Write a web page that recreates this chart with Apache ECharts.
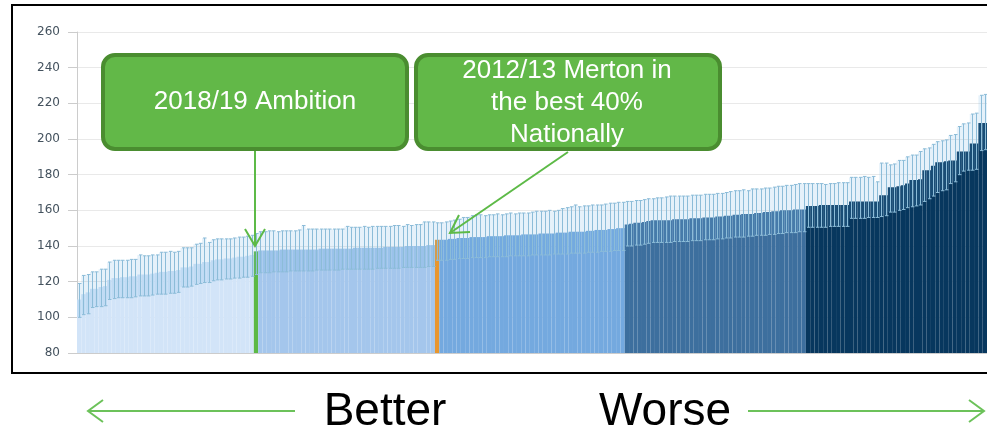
<!DOCTYPE html>
<html>
<head>
<meta charset="utf-8">
<script src="https://cdn.jsdelivr.net/npm/echarts@6/dist/echarts.min.js"></script>
<style>
  html, body { margin: 0; padding: 0; background: #fff; }
  #main { width: 987px; height: 432px; }
</style>
</head>
<body>
<div id="main"></div>
<script>
// rates per area, sorted best -> worst (one line per quintile)
const rateValues = [
  110, 113, 114, 116, 116, 117, 117.5, 121, 122, 122, 122.5, 122.5, 123, 123, 124, 124, 124, 124.5, 125, 125.5, 125.5, 126, 126, 126.5, 128, 128, 128.5, 130, 130, 131, 131, 132, 132.5, 132.5, 133, 133, 133.5, 134, 134, 134.5, 135,
  137, 137.5, 137.5, 137.5, 137.5, 137.5, 138, 138, 138, 138, 138, 138, 138, 138, 138, 138.5, 138.5, 138.5, 138.5, 138.5, 138.5, 138.5, 138.5, 139, 139, 139, 139, 139, 139, 139, 139.5, 139.5, 139.5, 139.5, 139.5, 140, 140, 140, 140, 140, 140.5, 140.5,
  143.5, 143.5, 143.5, 144, 144, 144.5, 144.5, 144.5, 145, 145, 145, 145, 145.5, 145.5, 145.5, 145.5, 146, 146, 146, 146, 146.5, 146.5, 146.5, 146.5, 147, 147, 147, 147, 147.5, 147.5, 147.5, 148, 148, 148, 148, 148.5, 148.5, 149, 149, 149, 149.5, 149.5, 150, 150,
  152, 152.5, 153, 153, 153.5, 154, 154.5, 154.5, 154.5, 154.5, 154.5, 155, 155, 155, 155, 155.5, 155.5, 155.5, 156, 156, 156, 156.5, 156.5, 157, 157, 157.5, 157.5, 158, 158, 158, 158.5, 158.5, 159, 159, 159.5, 159.5, 160, 160, 160, 160.5, 160.5, 160.5,
  162.5, 162.5, 162.5, 163, 163, 163, 163, 163, 163, 163, 165, 165, 165, 165, 165, 165, 165, 168.5, 168.5, 173, 173, 173.5, 174, 175, 177, 177, 177.5, 182.5, 182.5, 185, 187, 187, 187.5, 188, 188, 193, 193, 193, 197.5, 197.5, 209, 209
];
const upperCI = [
  119, 123.5, 124, 125.5, 125.5, 127, 127, 131, 132, 132, 132, 132, 132.5, 132.5, 135, 134.5, 134.5, 135, 135, 136.5, 136.5, 137, 136.5, 137, 139, 139, 139, 141, 141.5, 144.5, 142, 143.5, 144, 144, 144, 144, 144.5, 145, 145, 145.5, 146,
  147, 148, 148, 148.5, 148.5, 148, 148.5, 148.5, 148.5, 148.5, 149, 151.5, 149.5, 149.5, 149.5, 149.5, 149.5, 149.5, 149.5, 149.5, 149.5, 151, 150.5, 150.5, 150.5, 151, 150.5, 151, 151, 151, 151, 151, 151.5, 151.5, 151, 152, 151.5, 152, 152, 153.5, 153.5, 153.5,
  153, 153, 153.5, 154, 154.5, 155, 156, 156, 157, 157.5, 157.5, 157, 157.5, 157.5, 158, 157.5, 158, 158.5, 158, 158.5, 158.5, 158.5, 159, 159.5, 159.5, 159.5, 160, 159.5, 160, 161, 161.5, 162, 163, 162, 162.5, 162.5, 163, 163, 163, 163.5, 164, 164, 164.5, 164.5,
  165, 165, 165.5, 165.5, 166, 166.5, 166.5, 167, 167, 167.5, 168, 168, 168, 168, 168, 168.5, 168.5, 168.5, 169, 169, 169, 169.5, 169.5, 170, 170.5, 171, 171, 171.5, 171, 172, 172, 172, 172.5, 172.5, 173, 173.5, 173.5, 174, 174, 174.5, 175, 175,
  175, 175, 175, 175, 174.5, 175, 175, 175.5, 175.5, 175.5, 178.5, 178.5, 178.5, 179, 178.5, 179, 176, 186.5, 186.5, 185.5, 186, 188, 188, 190, 191, 191, 193, 194.5, 195, 197, 198.5, 199, 199.5, 202, 202.5, 207, 208.5, 209, 214, 214.5, 224.5, 225
];
const lowerCI = [
  100, 101.5, 102, 105.5, 106, 106, 106.5, 110, 110.5, 111, 111, 111, 111, 111.5, 112, 112, 112, 112.5, 113, 113, 113, 113.5, 113.5, 114, 117, 117, 117.5, 118.5, 119, 119.5, 119.5, 120.5, 121, 121, 121.5, 121.5, 122, 122, 122.5, 122.5, 123,
  124, 125, 125, 125, 125.5, 125.5, 125.5, 125.5, 126, 126, 126, 126, 126, 126, 126.5, 126.5, 126.5, 126.5, 126.5, 126.5, 127, 127, 127, 127, 127, 127, 127, 127, 127.5, 127.5, 127.5, 127.5, 127.5, 127.5, 128, 128, 128, 128, 128, 128, 128.5, 128.5,
  132, 132, 132, 132.5, 132.5, 133, 133, 133, 133.5, 133.5, 133.5, 133.5, 134, 134, 134, 134, 134, 134.5, 134.5, 134.5, 134.5, 134.5, 135, 135, 135, 135, 135, 135.5, 135.5, 135.5, 135.5, 136, 136, 136, 136, 136.5, 136.5, 136.5, 137, 137, 137, 137.5, 137.5, 137.5,
  140, 140, 140.5, 140.5, 141, 141.5, 142, 142, 142, 142, 142, 142.5, 142.5, 142.5, 142.5, 143, 143, 143, 143.5, 143.5, 143.5, 144, 144, 144.5, 144.5, 145, 145, 145, 145.5, 145.5, 146, 146, 146, 146.5, 146.5, 147, 147, 147.5, 147.5, 147.5, 148, 148,
  150.5, 150.5, 150.5, 150.5, 150.5, 151, 151, 151, 151, 151, 155.5, 155.5, 155.5, 155.5, 156, 156, 156, 156.5, 157, 159, 159, 160, 160.5, 161.5, 162, 162.5, 163, 165, 166.5, 168, 170, 171, 171.5, 175, 176, 180, 182, 182.5, 182.5, 183, 193.5, 194
];
const categories = rateValues.map((v, i) => String(i + 1));
const quintileStarts = [0, 41, 83, 127, 169];
const quintileColors = ['#d2e4f8', '#a4c6ec', '#74a9df', '#3d6f9e', '#07375e'];
const ambitionIndex = 41;
const mertonIndex = 83;
const yTicks = { min: 80, max: 260, interval: 20 };

function barColor(i) {
  if (i === ambitionIndex) return '#5cb946';
  if (i === mertonIndex) return '#e8962e';
  let q = 0;
  quintileStarts.forEach((s, k) => { if (i >= s) q = k; });
  return quintileColors[q];
}

const errColor = '#8cbcd8';
function renderError(params, api) {
  const i = api.value(0);
  const top = api.coord([i, api.value(1)]);
  const bot = api.coord([i, api.value(2)]);
  const w = api.size([1, 0])[0];
  const x = Math.round(top[0]) + 0.5;
  return {
    type: 'group',
    children: [
      { type: 'rect', shape: { x: top[0] - w / 2, y: top[1], width: w, height: bot[1] - top[1] },
        style: { fill: 'rgba(110,180,225,0.18)' } },
      { type: 'line', shape: { x1: x, y1: top[1], x2: x, y2: bot[1] }, style: { stroke: errColor, lineWidth: 1 } },
      { type: 'line', shape: { x1: x - 1.5, y1: top[1], x2: x + 2, y2: top[1] }, style: { stroke: errColor, lineWidth: 1 } },
      { type: 'line', shape: { x1: x - 1.5, y1: bot[1], x2: x + 2, y2: bot[1] }, style: { stroke: errColor, lineWidth: 1 } }
    ]
  };
}

const green = '#62b848';
const greenEdge = '#4a8d30';
const arrowGreen = '#5dba47';

const chart = echarts.init(document.getElementById('main'));
chart.setOption({
  animation: false,
  backgroundColor: '#fff',
  grid: { left: 77, right: 0, top: 32, bottom: 79 },
  xAxis: {
    type: 'category',
    data: categories,
    axisLine: { lineStyle: { color: '#cccccc' } },
    axisTick: { show: false },
    axisLabel: { show: false }
  },
  yAxis: {
    type: 'value',
    min: yTicks.min, max: yTicks.max, interval: yTicks.interval,
    axisLine: { show: true, lineStyle: { color: '#cccccc' } },
    axisTick: { show: true, length: 9, lineStyle: { color: '#cccccc' } },
    axisLabel: { margin: 17, color: '#44525e', fontSize: 12, fontFamily: 'DejaVu Sans' },
    splitLine: { lineStyle: { color: '#e9e9e9' } }
  },
  series: [
    {
      type: 'bar',
      barCategoryGap: '0%',
      data: rateValues.map((v, i) => ({ value: v, itemStyle: { color: barColor(i) } }))
    },
    {
      type: 'custom',
      renderItem: renderError,
      encode: { x: 0, y: [1, 2] },
      data: rateValues.map((v, i) => [i, upperCI[i], lowerCI[i]]),
      z: 3
    }
  ],
  graphic: [
    { type: 'rect', shape: { x: 12, y: 5, width: 1000, height: 368 },
      style: { fill: 'none', stroke: '#000', lineWidth: 2 }, z: 100 },
    // annotation boxes
    { type: 'rect', shape: { x: 103, y: 55, width: 304, height: 94, r: 12 },
      style: { fill: green, stroke: greenEdge, lineWidth: 4 }, z: 100 },
    { type: 'text', z: 101, style: { text: '2018/19 Ambition', x: 255, y: 102, textAlign: 'center', textVerticalAlign: 'middle',
      fontSize: 26, fontFamily: 'Liberation Sans', fill: '#fff' } },
    { type: 'rect', shape: { x: 416, y: 55, width: 304, height: 94, r: 12 },
      style: { fill: green, stroke: greenEdge, lineWidth: 4 }, z: 100 },
    { type: 'text', z: 101, style: { text: '2012/13 Merton in\nthe best 40%\nNationally', x: 567, y: 103, textAlign: 'center',
      textVerticalAlign: 'middle', fontSize: 26, lineHeight: 32, fontFamily: 'Liberation Sans', fill: '#fff' } },
    // arrows to bars
    { type: 'line', z: 100, shape: { x1: 255, y1: 151, x2: 255, y2: 246 }, style: { stroke: arrowGreen, lineWidth: 2 } },
    { type: 'polyline', z: 100, shape: { points: [[245, 229], [255, 246], [265, 229]] }, style: { stroke: arrowGreen, lineWidth: 2, fill: 'none' } },
    { type: 'line', z: 100, shape: { x1: 568, y1: 152, x2: 450, y2: 233 }, style: { stroke: arrowGreen, lineWidth: 2 } },
    { type: 'polyline', z: 100, shape: { points: [[459, 215], [450, 233], [470, 232]] }, style: { stroke: arrowGreen, lineWidth: 2, fill: 'none' } },
    // better / worse
    { type: 'text', style: { text: 'Better', x: 385, y: 412, textAlign: 'center', textVerticalAlign: 'middle',
      fontSize: 46, fontFamily: 'Liberation Sans', fill: '#000' } },
    { type: 'text', style: { text: 'Worse', x: 665, y: 412, textAlign: 'center', textVerticalAlign: 'middle',
      fontSize: 46, fontFamily: 'Liberation Sans', fill: '#000' } },
    { type: 'line', shape: { x1: 88, y1: 411, x2: 295, y2: 411 }, style: { stroke: '#6cc25a', lineWidth: 2 } },
    { type: 'polyline', shape: { points: [[103, 400], [88, 411], [103, 422]] }, style: { stroke: '#6cc25a', lineWidth: 2, fill: 'none' } },
    { type: 'line', shape: { x1: 748, y1: 411, x2: 984, y2: 411 }, style: { stroke: '#6cc25a', lineWidth: 2 } },
    { type: 'polyline', shape: { points: [[969, 400], [984, 411], [969, 422]] }, style: { stroke: '#6cc25a', lineWidth: 2, fill: 'none' } }
  ]
});
</script>
</body>
</html>
